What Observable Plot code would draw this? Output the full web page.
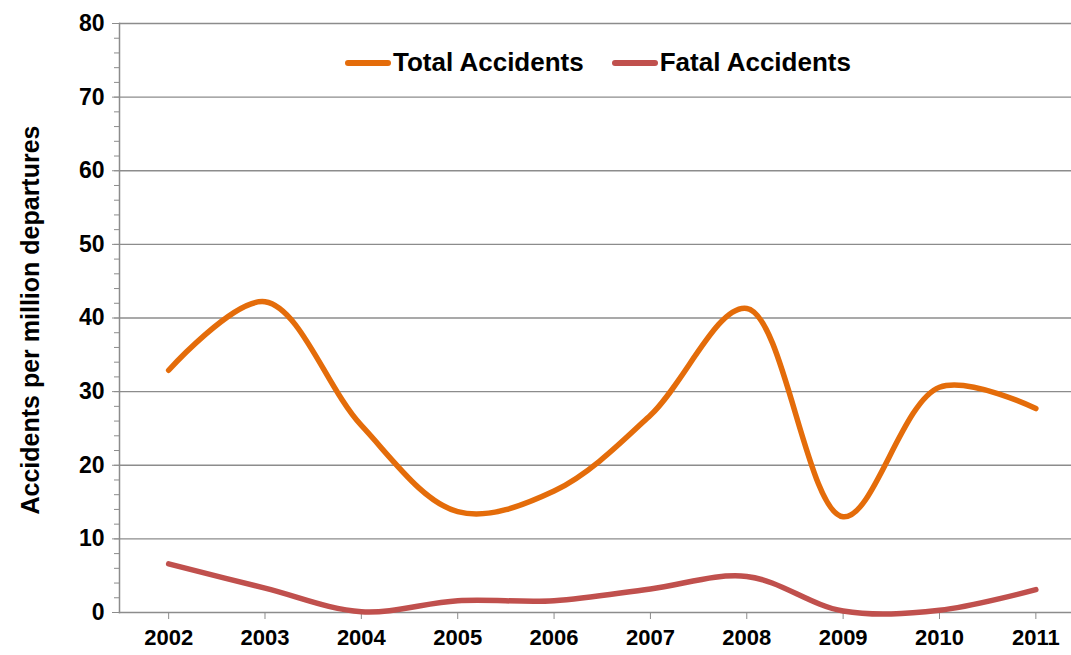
<!DOCTYPE html>
<html>
<head>
<meta charset="utf-8">
<script src="https://cdn.jsdelivr.net/npm/d3@7"></script>
<script src="https://cdn.jsdelivr.net/npm/@observablehq/plot@0.6"></script>
<style>
  html, body { margin: 0; padding: 0; background: #fff; }
  #wrap { position: relative; width: 1071px; height: 655px; font-family: "Liberation Sans", Arial, sans-serif; }
  .legend { position: absolute; top: 47px; left: 345px; display: flex; align-items: center; font-weight: bold; font-size: 26px; color: #000; }
  .legend .item { display: flex; align-items: center; margin-right: 28px; }
  .legend .sw { width: 46px; height: 6px; border-radius: 3px; margin-right: 2px; }
</style>
</head>
<body>
<div id="wrap"></div>
<script>
const years = [2002, 2003, 2004, 2005, 2006, 2007, 2008, 2009, 2010, 2011];
const totalAccidents = [32.9, 42.2, 25.4, 13.7, 16.5, 26.8, 41.3, 13.0, 30.6, 27.7];
const fatalAccidents = [6.6, 3.3, 0.1, 1.6, 1.6, 3.2, 4.9, 0.2, 0.3, 3.1];
const seriesNames = ["Total Accidents", "Fatal Accidents"];
const seriesColors = ["#E46C0A", "#C0504D"];
const yMajorTicks = [0, 10, 20, 30, 40, 50, 60, 70, 80];
const yMinorTicks = d3.range(0, 81, 2);
const yTitle = "Accidents per million departures";

const data = [
  ...years.map((y, i) => ({year: y, value: totalAccidents[i], series: seriesNames[0]})),
  ...years.map((y, i) => ({year: y, value: fatalAccidents[i], series: seriesNames[1]}))
];

const font = "Liberation Sans, Arial, sans-serif";

const chart = Plot.plot({
  width: 1071,
  height: 655,
  marginLeft: 119,
  marginRight: 0,
  marginTop: 23,
  marginBottom: 43,
  style: {fontFamily: font, background: "#fff"},
  x: {domain: [2001.49, 2011.37], label: null},
  y: {domain: [0, 80], label: null},
  color: {domain: seriesNames, range: seriesColors},
  marks: [
    Plot.gridY(yMajorTicks.filter(d => d > 0), {stroke: "#8c8c8c", strokeOpacity: 1, strokeWidth: 1.3}),
    Plot.axisY(yMinorTicks, {tickSize: 5, stroke: "#8c8c8c", text: null, anchor: "left", label: null}),
    Plot.axisY(yMajorTicks, {tickSize: 7, stroke: "#8c8c8c", anchor: "left", tickPadding: 8,
      fontSize: 23, fontWeight: "bold", fill: "#000", label: null}),
    Plot.axisX(years, {tickSize: 7, stroke: "#8c8c8c", anchor: "bottom", tickPadding: 10,
      fontSize: 22, fontWeight: "bold", fill: "#000", tickFormat: d => String(d), label: null}),
    Plot.frame({anchor: "left", stroke: "#8c8c8c", strokeWidth: 1.5}),
    Plot.frame({anchor: "bottom", stroke: "#8c8c8c", strokeWidth: 1.5}),
    Plot.line(data, {x: "year", y: "value", z: "series", stroke: "series",
      strokeWidth: 5.5, curve: "catmull-rom", strokeLinecap: "round", strokeLinejoin: "round"}),
    Plot.text([yTitle], {frameAnchor: "left", dx: -89, dy: 2, rotate: -90, textAnchor: "middle",
      fontSize: 25, fontWeight: "bold", fill: "#000"})
  ]
});

const wrap = document.getElementById("wrap");
wrap.appendChild(chart);

const legend = document.createElement("div");
legend.className = "legend";
seriesNames.forEach((name, i) => {
  const item = document.createElement("div");
  item.className = "item";
  const sw = document.createElement("span");
  sw.className = "sw";
  sw.style.background = seriesColors[i];
  const t = document.createElement("span");
  t.textContent = name;
  item.appendChild(sw);
  item.appendChild(t);
  legend.appendChild(item);
});
wrap.appendChild(legend);
</script>
</body>
</html>
